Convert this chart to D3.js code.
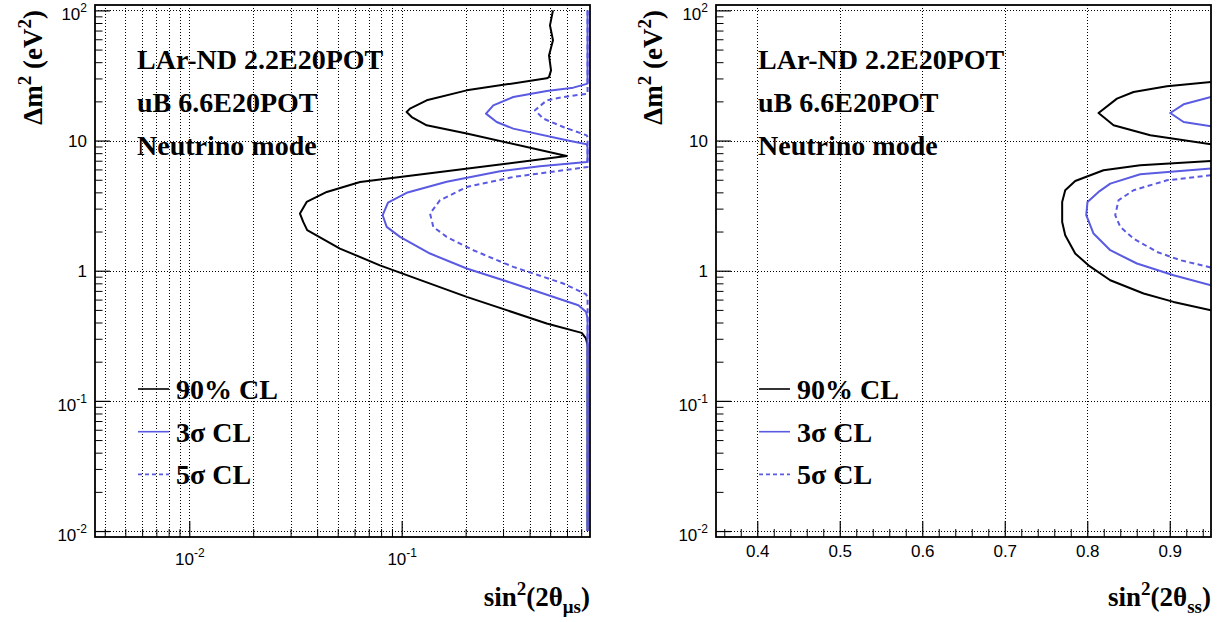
<!DOCTYPE html>
<html><head><meta charset="utf-8">
<script src="https://cdn.jsdelivr.net/npm/d3@7"></script>
<style>body{margin:0;background:#fff} svg{display:block}</style>
</head><body><svg id="c" width="1221" height="622"></svg>
<script>
// ---------------- data ----------------
const yTickValues = [0.01, 0.1, 1, 10, 100];
const yTickLabels = [["10","-2"],["10","-1"],["1",""],["10",""],["10","2"]];
const leftXTickValues = [0.01, 0.1];
const leftXTickLabels = [["10","-2"],["10","-1"]];
const rightXTickValues = [0.4,0.5,0.6,0.7,0.8,0.9];
const rightXTickLabels = ["0.4","0.5","0.6","0.7","0.8","0.9"];
const annotLines = ["LAr-ND 2.2E20POT","uB 6.6E20POT","Neutrino mode"];
const legendLabels = ["90% CL","3\u03c3 CL","5\u03c3 CL"];

// left panel contours: [sin^2(2theta_mu_s), dm^2]
const left90 = [[0.5155,100],[0.499,76.7],[0.5155,58.9],[0.4937,45.1],[0.5047,34.6],[0.4937,30.7],[0.4817,30.06],
 [0.2023,24.3],[0.1311,20.37],[0.1094,17.6],[0.1055,16.56],[0.1115,15.16],[0.1311,13.1],[0.2023,11.31],[0.598,7.61],
 [0.136,5.61],[0.0637,4.81],[0.0444,4.03],[0.0357,3.375],[0.0332,2.75],[0.0344,2.37],[0.0359,2.05],[0.0512,1.48],
 [0.079,1.10],[0.2023,0.629],[0.4817,0.393],[0.704,0.333],[0.737,0.3017],[0.75,0.268],[0.75,0.01]];
const left3s = [[0.75,100],[0.75,27.37],[0.6424,25.5],[0.4817,24.0],[0.3352,21.6],[0.27,18.65],[0.2494,16.1],[0.28,13.88],
 [0.3352,12.35],[0.598,10.04],[0.743,9.36],[0.75,8.87],[0.75,7.05],[0.743,6.84],[0.4477,6.34],[0.2903,5.81],[0.1629,4.82],
 [0.1055,3.97],[0.0862,3.33],[0.0814,2.67],[0.085,2.17],[0.0982,1.82],[0.136,1.355],[0.2023,1.04],[0.3352,0.798],
 [0.6785,0.5435],[0.737,0.483],[0.75,0.4317],[0.75,0.01]];
const left5s = [[0.75,100],[0.75,22.9],[0.5765,21.6],[0.4817,20.37],[0.4241,17.07],[0.4642,14.74],[0.5765,12.7],[0.743,10.97],
 [0.75,10.6],[0.75,6.26],[0.3352,5.25],[0.2023,4.4],[0.1515,3.48],[0.136,2.75],[0.1409,2.17],[0.1629,1.82],[0.2173,1.437],
 [0.3352,1.07],[0.5765,0.798],[0.737,0.66],[0.75,0.626],[0.75,0.01]];

// right panel contours: [sin^2(2theta_ss), dm^2]
const right90a = [[0.95,28.15],[0.8966,26.1],[0.8561,23.6],[0.836,21.0],[0.8137,16.27],[0.8319,13.1],[0.8764,10.97],[0.95,9.36]];
const right3sa = [[0.95,21.6],[0.9168,18.98],[0.9006,16.27],[0.9168,13.88],[0.95,12.86]];
const right90b = [[0.95,6.97],[0.8642,6.46],[0.8197,5.91],[0.7854,4.89],[0.7733,4.15],[0.7696,3.375],[0.7696,2.37],
 [0.7733,1.874],[0.7854,1.355],[0.8015,1.10],[0.8279,0.845],[0.8683,0.668],[0.9046,0.576],[0.95,0.497]];
const right3sb = [[0.95,6.09],[0.8642,5.51],[0.8279,4.67],[0.8137,4.03],[0.8003,3.375],[0.7988,2.67],[0.8076,1.93],
 [0.8279,1.437],[0.8602,1.136],[0.9046,0.924],[0.95,0.774]];
const right5sb = [[0.95,5.41],[0.8966,4.95],[0.8561,4.15],[0.8379,3.48],[0.8339,2.67],[0.84,2.17],[0.8561,1.767],
 [0.8845,1.394],[0.9128,1.204],[0.95,1.058]];

// ---------------- drawing ----------------
const svg = d3.select("#c");
const BLUE = "#5a5ae2";
const SERIF = "'Liberation Serif','Times New Roman',serif";
const SANS = "'Liberation Sans',Arial,Helvetica,sans-serif";
const TOPY = 5, BOTY = 537;

function panel(opt) {
  const {x0, x1, x, xSub, curves, xMajor, xMajorLabels, xMinor, xGrid, yTitleX, id, xLabelY} = opt;
  const y = d3.scaleLog().domain([0.009, 110]).range([BOTY, TOPY]);
  const g = svg.append("g");

  svg.append("clipPath").attr("id", id).append("rect")
    .attr("x", x0).attr("y", TOPY).attr("width", x1 - x0).attr("height", BOTY - TOPY);

  // grid
  const grid = g.append("g").attr("stroke", "#000").attr("stroke-width", 1).attr("stroke-dasharray", "1,2")
    .attr("shape-rendering", "crispEdges");
  grid.selectAll("line.vx").data(xGrid).join("line").attr("class", "vx")
    .attr("x1", d => Math.round(x(d)) + 0.5).attr("x2", d => Math.round(x(d)) + 0.5).attr("y1", TOPY).attr("y2", BOTY);
  grid.selectAll("line.hy").data(yTickValues).join("line").attr("class", "hy")
    .attr("y1", d => Math.round(y(d)) + 0.5).attr("y2", d => Math.round(y(d)) + 0.5).attr("x1", x0).attr("x2", x1);

  // curves
  const line = d3.line().x(d => x(d[0])).y(d => y(d[1]));
  const cg = g.append("g").attr("clip-path", `url(#${id})`).attr("fill", "none").attr("stroke-linejoin", "round");
  curves.forEach(c => {
    cg.append("path").attr("d", line(c.data)).attr("stroke", c.color).attr("stroke-width", 2)
      .attr("stroke-dasharray", c.dash || null);
  });

  // y axis
  const yMinor = y.ticks().filter(v => v >= 0.0099 && v <= 100.1 && !yTickValues.some(t => Math.abs(t - v) / t < 1e-6));
  const ya = g.append("g").attr("transform", `translate(${x0},0)`)
    .call(d3.axisLeft(y).tickValues(yTickValues).tickSize(-15).tickPadding(8).tickFormat(() => ""));
  g.append("g").attr("transform", `translate(${x0},0)`)
    .call(d3.axisLeft(y).tickValues(yMinor).tickSize(-7.5).tickFormat(() => ""))
    .call(s => s.select(".domain").remove());
  ya.select(".domain").remove();
  ya.selectAll(".tick line").attr("stroke-width", 1.2);
  ya.selectAll(".tick text").each(function(d, i) {
    const lab = yTickLabels[i];
    const t = d3.select(this).attr("dy", null).attr("y", lab[1] ? 9.5 : 6)
      .attr("font-family", SANS).attr("font-size", 17).attr("fill", "#000");
    t.append("tspan").text(lab[0]);
    if (lab[1]) t.append("tspan").attr("dy", -8).attr("font-size", 12).text(lab[1]);
  });

  // x axis
  const xa = g.append("g").attr("transform", `translate(0,${BOTY})`)
    .call(d3.axisBottom(x).tickValues(xMajor).tickSize(-16).tickFormat(() => ""));
  g.append("g").attr("transform", `translate(0,${BOTY})`)
    .call(d3.axisBottom(x).tickValues(xMinor).tickSize(-8).tickFormat(() => ""))
    .call(s => s.select(".domain").remove());
  xa.select(".domain").remove();
  xa.selectAll(".tick line").attr("stroke-width", 1.2);
  xa.selectAll(".tick text").each(function(d, i) {
    const lab = xMajorLabels[i];
    const t = d3.select(this).attr("dy", null).attr("y", xLabelY)
      .attr("font-family", SANS).attr("font-size", 17).attr("fill", "#000");
    if (Array.isArray(lab)) {
      t.append("tspan").text(lab[0]);
      t.append("tspan").attr("dy", -8).attr("font-size", 12).text(lab[1]);
    } else t.text(lab);
  });

  // frame
  g.append("rect").attr("x", x0).attr("y", TOPY).attr("width", x1 - x0).attr("height", BOTY - TOPY)
    .attr("fill", "none").attr("stroke", "#000").attr("stroke-width", 1.8);

  // annotation
  const at = g.append("g").attr("font-family", SERIF).attr("font-weight", "bold").attr("font-size", 28);
  annotLines.forEach((s, i) => at.append("text").attr("x", x0 + 42).attr("y", 68.5 + i * 43.3).text(s));

  // legend
  const lg = g.append("g");
  const styles = [{c: "#000"}, {c: BLUE}, {c: BLUE, dash: "4,3"}];
  legendLabels.forEach((s, i) => {
    const cy = 389 + i * 42.7;
    lg.append("line").attr("x1", x0 + 43).attr("x2", x0 + 74).attr("y1", cy).attr("y2", cy)
      .attr("stroke", styles[i].c).attr("stroke-width", 1.6).attr("stroke-dasharray", styles[i].dash || null);
    lg.append("text").attr("x", x0 + 81).attr("y", cy + 10).attr("font-family", SERIF)
      .attr("font-weight", "bold").attr("font-size", 28).text(s);
  });

  // y title
  const yt = g.append("text").attr("transform", `translate(${yTitleX},10) rotate(-90)`)
    .attr("text-anchor", "end").attr("font-family", SERIF).attr("font-weight", "bold").attr("font-size", 27);
  yt.append("tspan").text("\u0394m");
  yt.append("tspan").attr("dy", -11).attr("font-size", 19).text("2");
  yt.append("tspan").attr("dy", 11).text(" (eV");
  yt.append("tspan").attr("dy", -11).attr("font-size", 19).text("2");
  yt.append("tspan").attr("dy", 11).text(")");

  // x title
  const xt = g.append("text").attr("x", x1).attr("y", 606).attr("text-anchor", "end")
    .attr("font-family", SERIF).attr("font-weight", "bold").attr("font-size", 27);
  xt.append("tspan").text("sin");
  xt.append("tspan").attr("dy", -11).attr("font-size", 19).text("2");
  xt.append("tspan").attr("dy", 11).text("(2\u03b8");
  xt.append("tspan").attr("dy", 7).attr("font-size", 19).text(xSub);
  xt.append("tspan").attr("dy", -7).text(")");
}

// left panel
const xL = d3.scaleLog().domain([0.0036, 0.77]).range([95, 590]);
const leftMinor = xL.ticks().filter(v => !leftXTickValues.some(t => Math.abs(t - v) / t < 1e-6));
panel({
  id: "clipL", x0: 95, x1: 590, x: xL, xSub: "\u03bcs", yTitleX: 41.5, xLabelY: 28,
  xMajor: leftXTickValues, xMajorLabels: leftXTickLabels, xMinor: leftMinor, xGrid: xL.ticks(),
  curves: [{data: left90, color: "#000"}, {data: left3s, color: BLUE}, {data: left5s, color: BLUE, dash: "5,3.5"}]
});

// right panel
const xR = d3.scaleLinear().domain([0.35, 0.95]).range([716, 1211]);
const rightMinor = d3.range(18, 48).map(k => k * 0.02).filter(v => v > 0.351 && v < 0.949 && Math.abs(v * 10 - Math.round(v * 10)) > 1e-6);
panel({
  id: "clipR", x0: 716, x1: 1211, x: xR, xSub: "ss", yTitleX: 661.5, xLabelY: 20,
  xMajor: rightXTickValues, xMajorLabels: rightXTickLabels, xMinor: rightMinor, xGrid: rightXTickValues,
  curves: [{data: right90a, color: "#000"}, {data: right3sa, color: BLUE},
           {data: right90b, color: "#000"}, {data: right3sb, color: BLUE}, {data: right5sb, color: BLUE, dash: "5,3.5"}]
});
</script></body></html>
